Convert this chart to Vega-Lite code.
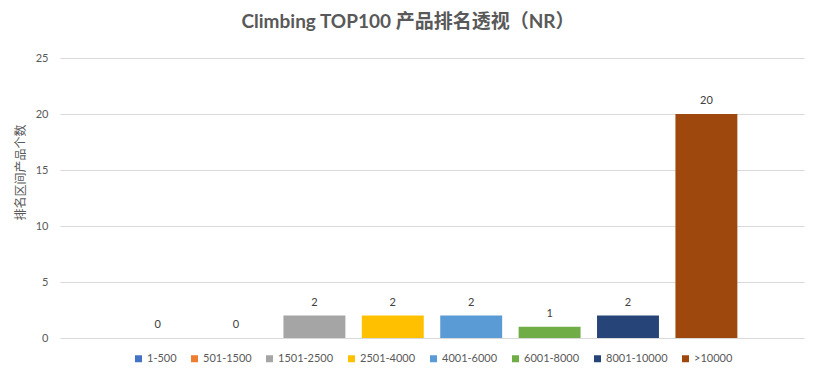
{
  "$schema": "https://vega.github.io/schema/vega-lite/v6.json",
  "autosize": "none",
  "width": 744,
  "height": 280,
  "padding": {"left": 60, "top": 58, "right": 15, "bottom": 41},
  "background": "white",
  "title": {
    "text": "Climbing TOP100 产品排名透视（NR）",
    "font": "Lato, 'Noto Sans CJK SC'",
    "fontSize": 19,
    "fontWeight": "bold",
    "color": "#595959",
    "anchor": "middle",
    "dx": -24,
    "offset": 20
  },
  "data": {
    "values": [
      {"range": "1-500", "count": 0},
      {"range": "501-1500", "count": 0},
      {"range": "1501-2500", "count": 2},
      {"range": "2501-4000", "count": 2},
      {"range": "4001-6000", "count": 2},
      {"range": "6001-8000", "count": 1},
      {"range": "8001-10000", "count": 2},
      {"range": ">10000", "count": 20}
    ]
  },
  "encoding": {
    "x": {
      "field": "range",
      "type": "nominal",
      "sort": null,
      "axis": null,
      "scale": {"paddingInner": 0.21, "paddingOuter": 0.85}
    },
    "y": {
      "field": "count",
      "type": "quantitative",
      "scale": {"domain": [0, 25]},
      "axis": {
        "values": [0, 5, 10, 15, 20, 25],
        "title": "排名区间产品个数",
        "titleFont": "'Noto Sans CJK SC'",
        "titleFontSize": 12,
        "titleFontWeight": "normal",
        "titleColor": "#595959",
        "titleX": -33,
        "titleY": 114,
        "labelFont": "Lato",
        "labelFontSize": 11,
        "labelColor": "#595959",
        "labelPadding": 12,
        "domain": false,
        "ticks": false,
        "gridColor": "#d9d9d9",
        "gridWidth": 1
      }
    }
  },
  "layer": [
    {
      "mark": {"type": "bar"},
      "encoding": {
        "color": {
          "field": "range",
          "type": "nominal",
          "sort": null,
          "scale": {
            "domain": ["1-500", "501-1500", "1501-2500", "2501-4000", "4001-6000", "6001-8000", "8001-10000", ">10000"],
            "range": ["#4472C4", "#ED7D31", "#A5A5A5", "#FFC000", "#5B9BD5", "#70AD47", "#264478", "#9E480E"]
          },
          "legend": {
            "title": null,
            "orient": "none",
            "direction": "horizontal",
            "legendX": 73,
            "legendY": 295,
            "symbolType": "square",
            "symbolSize": 49,
            "symbolStrokeWidth": 0,
            "labelFont": "Lato",
            "labelFontSize": 11,
            "labelColor": "#595959",
            "labelOffset": 3,
            "columnPadding": 12,
            "padding": 0
          }
        }
      }
    },
    {
      "mark": {
        "type": "text",
        "baseline": "bottom",
        "dy": -8,
        "font": "Lato",
        "fontSize": 11,
        "color": "#404040"
      },
      "encoding": {
        "text": {"field": "count", "type": "quantitative"}
      }
    }
  ],
  "config": {
    "view": {"stroke": null}
  }
}
